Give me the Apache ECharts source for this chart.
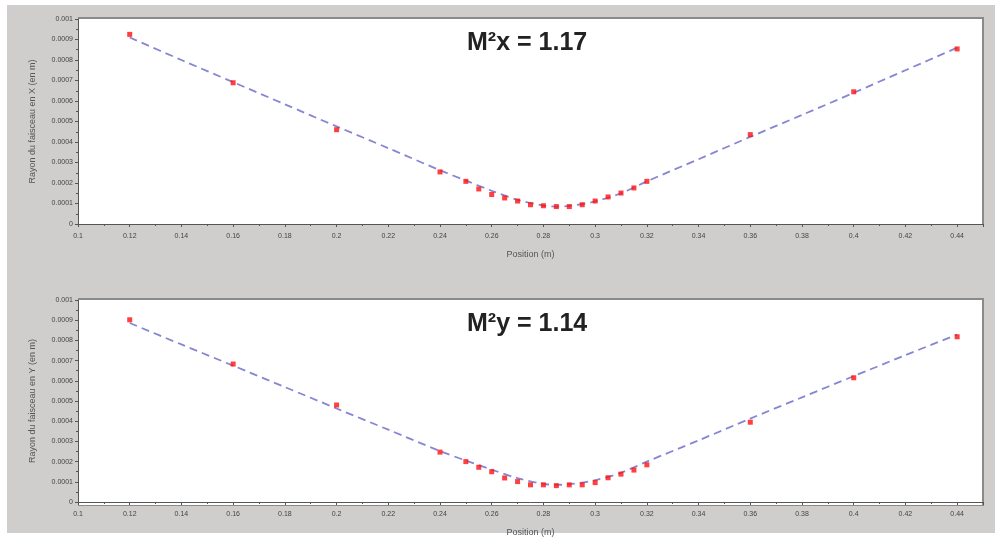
<!DOCTYPE html>
<html>
<head>
<meta charset="utf-8">
<script src="https://cdn.jsdelivr.net/npm/echarts@6/dist/echarts.min.js"></script>
<style>
html,body{margin:0;padding:0;background:#fff;}
#c{width:995px;height:538px;}
</style>
</head>
<body>
<div id="c"></div>
<script>
// ---- data ----
var positions = [0.12, 0.16, 0.2, 0.24, 0.25, 0.255, 0.26, 0.265, 0.27, 0.275, 0.28, 0.285, 0.29, 0.295, 0.3, 0.305, 0.31, 0.315, 0.32, 0.36, 0.4, 0.44];
var radiusX = [0.000925, 0.000689, 0.000460, 0.000254, 0.000208, 0.000171, 0.000144, 0.000127, 0.000112, 0.000094, 0.000089, 0.000085, 0.000085, 0.000094, 0.000112, 0.000132, 0.000151, 0.000176, 0.000208, 0.000436, 0.000645, 0.000854];
var radiusY = [0.000902, 0.000683, 0.000480, 0.000247, 0.000200, 0.000172, 0.000150, 0.000119, 0.000101, 0.000085, 0.000085, 0.000081, 0.000085, 0.000085, 0.000096, 0.000120, 0.000138, 0.000158, 0.000184, 0.000395, 0.000615, 0.000818];
var fitPositions = [0.12, 0.14, 0.16, 0.18, 0.2, 0.22, 0.24, 0.25, 0.26, 0.27, 0.28, 0.285, 0.29, 0.3, 0.31, 0.32, 0.34, 0.36, 0.38, 0.4, 0.42, 0.44];
var fitX = [0.000910, 0.000800, 0.000692, 0.000584, 0.000476, 0.000370, 0.000262, 0.000212, 0.000162, 0.000118, 0.000090, 0.000085, 0.000088, 0.000110, 0.000150, 0.000208, 0.000316, 0.000425, 0.000532, 0.000640, 0.000750, 0.000860];
var fitY = [0.000886, 0.000780, 0.000675, 0.000569, 0.000463, 0.000358, 0.000252, 0.000205, 0.000160, 0.000118, 0.000090, 0.000085, 0.000088, 0.000108, 0.000145, 0.000200, 0.000305, 0.000413, 0.000518, 0.000623, 0.000727, 0.000829];
var titles = ['M\u00B2x = 1.17', 'M\u00B2y = 1.14'];
var yNames = ['Rayon du faisceau en X (en m)', 'Rayon du faisceau en Y (en m)'];
var xName = 'Position (m)';

function pairs(xs, ys){ return xs.map(function(x,i){ return [x, ys[i]]; }); }
function fmtX(v){ return parseFloat(v.toFixed(2)).toString(); }
function fmtY(v){ return parseFloat(v.toFixed(4)).toString(); }

var grids = [
  {left: 78, top: 19, width: 905, height: 205},
  {left: 78, top: 300, width: 905, height: 205}
];
var axisColor = '#555';
var labelStyle = {fontSize: 7, color: '#444', fontFamily: 'Liberation Sans, Arial, sans-serif'};

var xAxes = [], yAxes = [], series = [];
for (var k = 0; k < 2; k++) {
  xAxes.push({
    type: 'value', gridIndex: k, min: 0.1, max: 0.45, interval: 0.02,
    name: xName, nameLocation: 'middle', nameGap: 26,
    nameTextStyle: {fontSize: 9, color: '#555', fontFamily: 'Liberation Sans, Arial, sans-serif'},
    axisLine: {show: true, onZero: false, lineStyle: {color: axisColor, width: 1}},
    axisTick: {show: true, inside: false, length: 3, lineStyle: {color: axisColor}},
    minorTick: {show: true, splitNumber: 2, length: 2, lineStyle: {color: axisColor}},
    axisLabel: Object.assign({margin: 9, showMaxLabel: false, formatter: fmtX}, labelStyle),
    splitLine: {show: false}
  });
  yAxes.push({
    type: 'value', gridIndex: k, min: 0, max: 0.001, interval: 0.0001,
    name: yNames[k], nameLocation: 'middle', nameGap: 41, nameRotate: 90,
    nameTextStyle: {fontSize: 9, color: '#555', fontFamily: 'Liberation Sans, Arial, sans-serif'},
    axisLine: {show: true, onZero: false, lineStyle: {color: axisColor, width: 1}},
    axisTick: {show: true, inside: false, length: 3, lineStyle: {color: axisColor}},
    minorTick: {show: true, splitNumber: 2, length: 2, lineStyle: {color: axisColor}},
    axisLabel: Object.assign({margin: 5, formatter: fmtY}, labelStyle),
    splitLine: {show: false}
  });
  series.push({
    type: 'line', xAxisIndex: k, yAxisIndex: k, smooth: 0.3, showSymbol: false,
    data: pairs(fitPositions, k === 0 ? fitX : fitY),
    lineStyle: {color: '#8686d4', width: 1.8, type: [8, 5]},
    z: 2, silent: true
  });
  series.push({
    type: 'scatter', xAxisIndex: k, yAxisIndex: k, symbol: 'rect', symbolSize: 5,
    data: pairs(positions, k === 0 ? radiusX : radiusY),
    itemStyle: {color: '#ff1010'},
    z: 3
  });
}

var chart = echarts.init(document.getElementById('c'), null, {renderer: 'canvas'});
chart.setOption({
  backgroundColor: '#ffffff',
  animation: false,
  graphic: [
    {type: 'rect', shape: {x: 7, y: 5, width: 988, height: 528}, style: {fill: '#cfcecd'}, z: -10, silent: true},
    {type: 'rect', shape: {x: 78, y: 17, width: 906, height: 208}, style: {fill: '#8a8a8a'}, z: -9, silent: true},
    {type: 'rect', shape: {x: 78, y: 19, width: 904, height: 205}, style: {fill: '#ffffff'}, z: -8, silent: true},
    {type: 'rect', shape: {x: 78, y: 298, width: 906, height: 208}, style: {fill: '#8a8a8a'}, z: -9, silent: true},
    {type: 'rect', shape: {x: 78, y: 300, width: 904, height: 205}, style: {fill: '#ffffff'}, z: -8, silent: true},
    {type: 'text', left: 467, top: 31, style: {text: titles[0], font: 'bold 25px "Liberation Sans", Arial, sans-serif', fill: '#222'}, z: 10},
    {type: 'text', left: 467, top: 312, style: {text: titles[1], font: 'bold 25px "Liberation Sans", Arial, sans-serif', fill: '#222'}, z: 10}
  ],
  grid: grids,
  xAxis: xAxes,
  yAxis: yAxes,
  series: series
});
</script>
</body>
</html>
